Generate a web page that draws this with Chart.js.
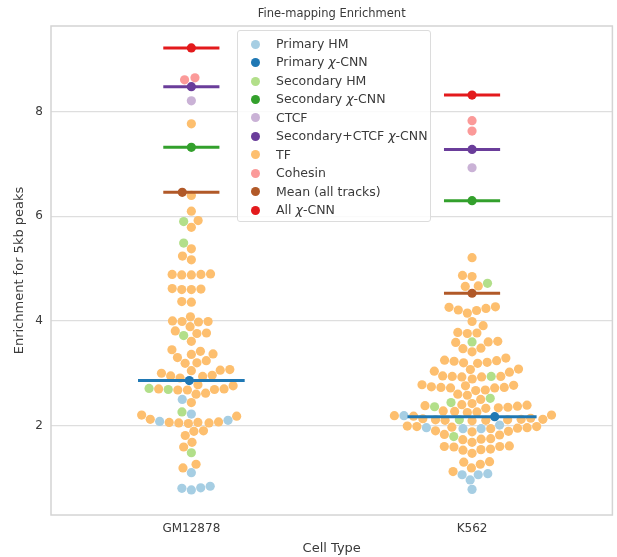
<!DOCTYPE html>
<html>
<head>
<meta charset="utf-8">
<title>Fine-mapping Enrichment</title>
<script src="https://cdn.jsdelivr.net/npm/chart.js@4.4.1/dist/chart.umd.min.js"></script>
<style>
  html, body { margin: 0; padding: 0; background: #fff; }
  #wrap { position: relative; width: 617px; height: 557px; }
  #legend {
    position: absolute; left: 237px; top: 30px; width: 194px; height: 192px;
    box-sizing: border-box; border: 1px solid #dcdcdc; border-radius: 3px;
    background: rgba(255, 255, 255, 0.85);
    font: 12.5px "DejaVu Sans", sans-serif; color: #3a3a3a; padding-top: 4px;
  }
  #legend .item { position: relative; height: 18.45px; line-height: 18.45px; padding-left: 38px; white-space: nowrap; }
  #legend .dot { position: absolute; left: 12.5px; top: 4.7px; width: 9px; height: 9px; border-radius: 50%; }
</style>
</head>
<body>
<div id="wrap">
  <canvas id="chart" width="617" height="557"></canvas>
  <div id="legend"></div>
</div>
<script>
const categories = ['GM12878', 'K562'];
const yTicks = [2, 4, 6, 8];

// one list per cell type: [GM12878, K562]
const primaryHM = [
  [2.50, 2.22, 2.10, 2.08, 1.10, 0.84, 0.81, 0.80, 0.77],
  [2.19, 2.01, 1.96, 1.94, 1.94, 1.08, 1.06, 1.06, 0.96, 0.78]
];
const primaryCNN = [[2.86], [2.17]];
const secondaryHM = [
  [5.90, 5.49, 3.72, 2.71, 2.69, 2.26, 1.48],
  [4.72, 3.60, 2.94, 2.52, 2.44, 2.36, 2.11, 1.79]
];
const secondaryCNN = [[7.32], [6.30]];
const ctcf = [[8.21], [6.93]];
const secondaryCtcfCNN = [[8.48], [7.28]];
const tf = [
  [7.77, 6.40, 6.10, 5.92, 5.79, 5.38, 5.24, 5.17, 4.90, 4.89, 4.89, 4.88, 4.88,
   4.62, 4.61, 4.60, 4.60, 4.37, 4.36, 4.08, 4.00, 3.99, 3.99, 3.98, 3.89, 3.81,
   3.77, 3.76, 3.61, 3.45, 3.42, 3.37, 3.36, 3.30, 3.24, 3.20, 3.19, 3.07, 3.06,
   3.05, 3.00, 2.96, 2.95, 2.94, 2.91, 2.78, 2.76, 2.70, 2.70, 2.69, 2.68, 2.68,
   2.62, 2.60, 2.44, 2.20, 2.18, 2.12, 2.07, 2.06, 2.06, 2.05, 2.05, 2.04, 1.90,
   1.89, 1.81, 1.68, 1.59, 1.26, 1.19],
  [5.21, 4.87, 4.85, 4.67, 4.66, 4.27, 4.26, 4.24, 4.21, 4.20, 4.15, 3.99, 3.91,
   3.78, 3.77, 3.76, 3.61, 3.60, 3.59, 3.48, 3.47, 3.41, 3.29, 3.25, 3.24, 3.23,
   3.21, 3.20, 3.19, 3.08, 3.07, 3.04, 3.02, 2.95, 2.94, 2.94, 2.93, 2.93, 2.89,
   2.78, 2.77, 2.76, 2.74, 2.73, 2.73, 2.72, 2.72, 2.68, 2.67, 2.60, 2.58, 2.50,
   2.42, 2.40, 2.39, 2.38, 2.37, 2.35, 2.34, 2.33, 2.28, 2.27, 2.26, 2.25, 2.20,
   2.19, 2.18, 2.14, 2.13, 2.12, 2.12, 2.11, 2.11, 2.10, 2.10, 2.09, 1.99, 1.98,
   1.98, 1.97, 1.96, 1.95, 1.94, 1.90, 1.89, 1.88, 1.83, 1.82, 1.75, 1.74, 1.73,
   1.68, 1.61, 1.60, 1.60, 1.59, 1.55, 1.54, 1.53, 1.47, 1.31, 1.30, 1.26, 1.19, 1.12]
];
const cohesin = [[8.61, 8.65], [7.83, 7.63]];
const meanAll = [[6.46], [4.53]];
const allCNN = [[9.22], [8.32]];

const seriesNames = ['Primary HM', 'Primary χ-CNN', 'Secondary HM', 'Secondary χ-CNN', 'CTCF',
  'Secondary+CTCF χ-CNN', 'TF', 'Cohesin', 'Mean (all tracks)', 'All χ-CNN'];
const seriesValues = [primaryHM, primaryCNN, secondaryHM, secondaryCNN, ctcf,
  secondaryCtcfCNN, tf, cohesin, meanAll, allCNN];
const seriesColors = ['#a6cee3', '#1f78b4', '#b2df8a', '#33a02c', '#cab2d6',
  '#6a3d9a', '#fdbf6f', '#fb9a99', '#b15928', '#e31a1c'];

// series that get a horizontal marker line, with its half width per cell type (x units)
const meanLines = {
  'Primary χ-CNN': [0.19, 0.23],
  'Secondary χ-CNN': [0.1, 0.1],
  'Secondary+CTCF χ-CNN': [0.1, 0.1],
  'Mean (all tracks)': [0.1, 0.1],
  'All χ-CNN': [0.1, 0.1]
};

const FONT = '"DejaVu Sans", sans-serif';
const TEXT = '#3a3a3a';
const RADIUS = 4.6;

// swarm points
const datasets = seriesNames.map((name, s) => ({
  type: 'scatter',
  label: name,
  swarm: true,
  data: seriesValues[s].flatMap((vals, c) => vals.map(v => ({ x: c, y: v }))),
  backgroundColor: seriesColors[s],
  borderWidth: 0,
  pointRadius: RADIUS,
  pointHoverRadius: RADIUS,
  order: 2
}));

// marker lines on top
seriesNames.forEach((name, s) => {
  if (!meanLines[name]) return;
  seriesValues[s].forEach((vals, c) => {
    const half = meanLines[name][c];
    datasets.push({
      type: 'line',
      label: name + ' line',
      data: [{ x: c - half, y: vals[0] }, { x: c + half, y: vals[0] }],
      borderColor: seriesColors[s],
      borderWidth: 3,
      pointRadius: 0,
      fill: false,
      order: 1
    });
  });
});

// axes frame + title centred over the plot area
const frameBox = {
  id: 'frameBox',
  beforeDatasetsDraw(chart) {
    const { ctx, chartArea: a } = chart;
    ctx.save();
    ctx.strokeStyle = '#d4d4d4';
    ctx.lineWidth = 1.5;
    ctx.strokeRect(a.left, a.top, a.right - a.left, a.bottom - a.top);
    ctx.restore();
  },
  afterDraw(chart) {
    const { ctx, chartArea: a } = chart;
    ctx.save();
    ctx.fillStyle = TEXT;
    ctx.font = '11.5px ' + FONT;
    ctx.textAlign = 'center';
    ctx.textBaseline = 'middle';
    ctx.fillText('Fine-mapping Enrichment', (a.left + a.right) / 2, 14);
    ctx.restore();
  }
};

const chart = new Chart(document.getElementById('chart'), {
  type: 'scatter',
  data: { datasets },
  plugins: [frameBox],
  options: {
    responsive: false,
    animation: false,
    layout: { padding: { left: 0, right: 2, top: 26, bottom: 0 } },
    plugins: {
      legend: { display: false },
      tooltip: { enabled: false },
      title: { display: false }
    },
    scales: {
      x: {
        type: 'linear',
        min: -0.5,
        max: 1.5,
        afterBuildTicks: s => { s.ticks = categories.map((_, i) => ({ value: i })); },
        afterFit: s => { s.height = 42; },
        ticks: { callback: v => categories[v], color: TEXT, font: { family: FONT, size: 12 }, padding: 7 },
        grid: { display: false, drawTicks: false },
        border: { display: false },
        title: { display: true, text: 'Cell Type', color: TEXT, font: { family: FONT, size: 13 }, padding: { top: 0, bottom: 1 } }
      },
      y: {
        min: 0.29,
        max: 9.64,
        afterBuildTicks: s => { s.ticks = yTicks.map(v => ({ value: v })); },
        afterFit: s => { s.width = 51; },
        ticks: { color: TEXT, font: { family: FONT, size: 12 }, padding: 8 },
        grid: { color: '#dedede', lineWidth: 1.2, drawTicks: false },
        border: { display: false },
        title: { display: true, text: 'Enrichment for 5kb peaks', color: TEXT, font: { family: FONT, size: 13 }, padding: { top: 12, bottom: 0 } }
      }
    }
  }
});

// beeswarm placement in pixel space, one swarm per cell type
function placeSwarm(points, d) {
  points.sort((a, b) => b.py - a.py);
  const placed = [];
  points.forEach(p => {
    const near = placed.filter(q => Math.abs(q.py - p.py) < d);
    const cands = [0];
    near.forEach(q => {
      const dx = Math.sqrt(d * d - (q.py - p.py) ** 2);
      cands.push(q.px - dx, q.px + dx);
    });
    cands.sort((a, b) => Math.abs(a) - Math.abs(b));
    p.px = cands.find(c => near.every(q => (q.px - c) ** 2 + (q.py - p.py) ** 2 >= d * d - 0.01));
    placed.push(p);
  });
}

const xs = chart.scales.x, ys = chart.scales.y;
const pxPerUnit = xs.getPixelForValue(1) - xs.getPixelForValue(0);
categories.forEach((cat, c) => {
  const pts = [];
  chart.data.datasets.forEach(ds => {
    if (!ds.swarm) return;
    ds.data.forEach(pt => {
      if (pt.x === c) pts.push({ pt, py: ys.getPixelForValue(pt.y) });
    });
  });
  placeSwarm(pts, RADIUS * 2 + 0.4);
  pts.forEach(p => { p.newX = c + p.px / pxPerUnit; });
  pts.forEach(p => { p.pt.x = p.newX; });
});
chart.update('none');

// legend
const legendEl = document.getElementById('legend');
seriesNames.forEach((name, s) => {
  const item = document.createElement('div');
  item.className = 'item';
  const dot = document.createElement('span');
  dot.className = 'dot';
  dot.style.background = seriesColors[s];
  item.appendChild(dot);
  name.split('χ').forEach((part, i) => {
    if (i > 0) {
      const chi = document.createElement('i');
      chi.textContent = 'χ';
      item.appendChild(chi);
    }
    item.appendChild(document.createTextNode(part));
  });
  legendEl.appendChild(item);
});
</script>
</body>
</html>
